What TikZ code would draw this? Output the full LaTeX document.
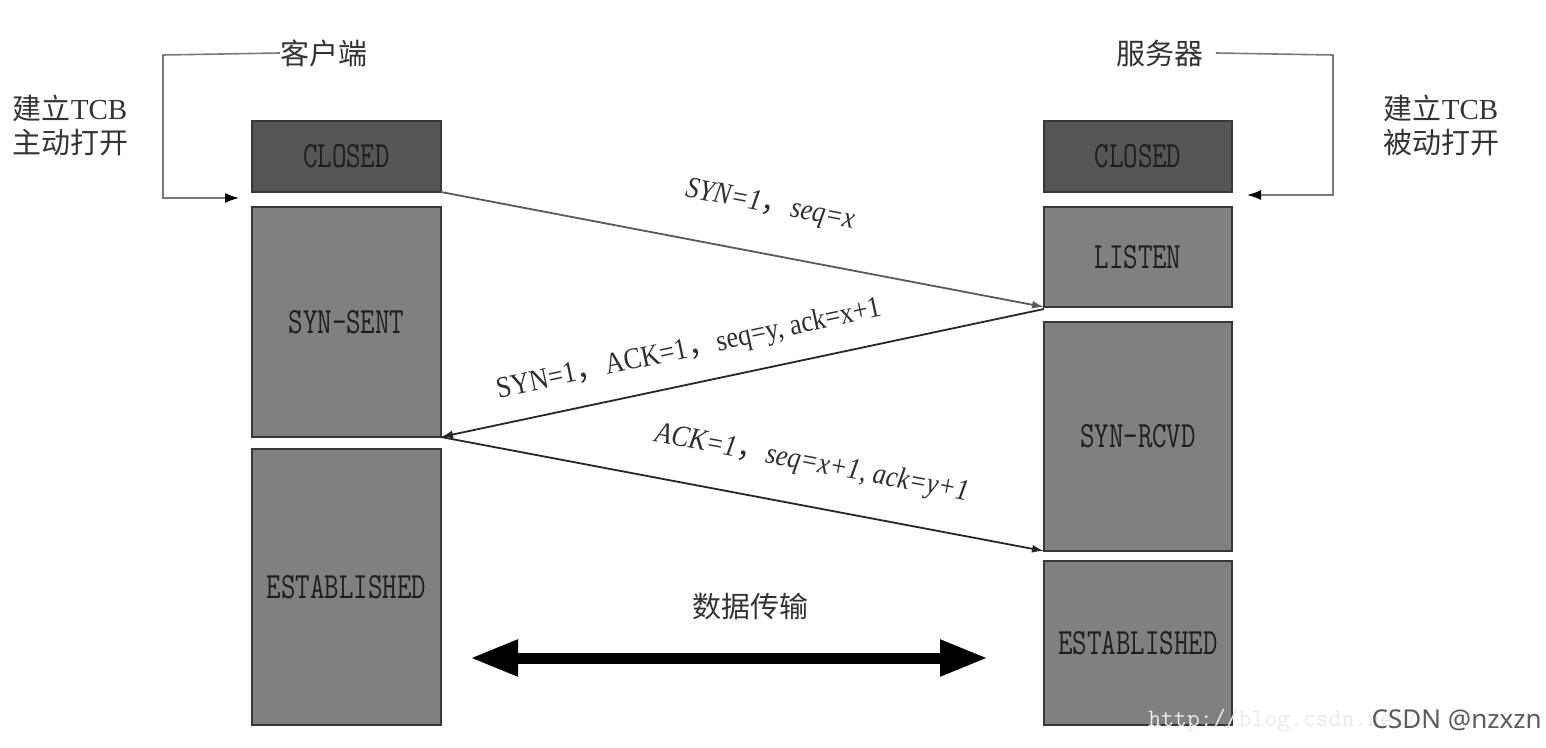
\documentclass[tikz,border=0pt]{standalone}
\usepackage{fontspec}
\setmainfont{Liberation Serif}
\newfontfamily\cjk{Noto Sans CJK SC}
\newfontfamily\labfont[FakeStretch=0.88]{Liberation Serif}
\newfontfamily\sigfont{Noto Sans}
\usetikzlibrary{arrows.meta}
\definecolor{boxdark}{HTML}{565656}
\definecolor{boxmid}{HTML}{808080}
\definecolor{boxline}{HTML}{383838}
\definecolor{statetext}{HTML}{1E1E1E}
\definecolor{labtext}{HTML}{2E2E2E}
\definecolor{cjktext}{HTML}{333333}
\definecolor{bracketcol}{HTML}{7A7A7A}
\definecolor{msgone}{HTML}{5A5A5A}
\definecolor{msgtwo}{HTML}{262626}
\definecolor{wmcol}{HTML}{EAEAEA}
\definecolor{sigcol}{HTML}{5C5C5C}
\newcommand\fc{{\cjk ，}}
\newcommand\st[1]{\scalebox{0.76}[1]{#1}}
\begin{document}
\begin{tikzpicture}[x=0.5pt,y=-0.5pt,
  statebox/.style={draw=boxline, line width=0.8pt, inner sep=0pt, outer sep=0pt,
    text=statetext, font=\fontsize{18.5pt}{22pt}\ttfamily},
  closedbox/.style={statebox, fill=boxdark},
  midbox/.style={statebox, fill=boxmid},
  msg/.style={line width=0.9pt, -{Latex[length=6pt,width=4pt]}},
  lab/.style={font=\labfont\fontsize{15pt}{18pt}\selectfont, text=labtext, inner sep=0pt},
  cjklab/.style={font=\cjk\fontsize{14.5pt}{17pt}\selectfont, text=cjktext, inner sep=0pt, align=center},
  bracket/.style={draw=bracketcol, line width=0.8pt},
  brtip/.style={-{Latex[length=7pt,width=5pt,color=black]}},
]
\useasboundingbox[fill=white] (0,0) rectangle (1546,748);

% client column
\node[closedbox, minimum width=94.5pt, minimum height=35.5pt] (cc) at (346.5,156.5) {\st{CLOSED}};
\node[midbox, minimum width=94.5pt, minimum height=115pt] (ss) at (346.5,322) {\st{SYN-SENT}};
\node[midbox, minimum width=94.5pt, minimum height=138pt] (ce) at (346.5,587) {\st{ESTABLISHED}};

% server column
\node[closedbox, minimum width=94pt, minimum height=35.5pt] (sc) at (1138,156.5) {\st{CLOSED}};
\node[midbox, minimum width=94pt, minimum height=50pt] (ls) at (1138,257) {\st{LISTEN}};
\node[midbox, minimum width=94pt, minimum height=114.5pt] (sr) at (1138,436.5) {\st{SYN-RCVD}};
\node[midbox, minimum width=94pt, minimum height=82pt] (se) at (1138,643) {\st{ESTABLISHED}};

% headings
\node[cjklab] (kh) at (324,53) {客户端};
\node[cjklab] (fw) at (1160,53) {服务器};
\node[cjklab] (lopen) at (70,125) {建立{\rmfamily TCB}\\主动打开};
\node[cjklab] (ropen) at (1441,125) {建立{\rmfamily TCB}\\被动打开};

% brackets
\coordinate (lc1) at (163,55);
\coordinate (lt) at (239,198);
\coordinate (rc1) at (1333,55);
\coordinate (rt) at (1247,195);
\draw[bracket, brtip] (kh.west) -- (lc1) |- (lt);
\draw[bracket, brtip] ([xshift=6pt]fw.east) -- (rc1) |- (rt);

% messages
\draw[msg, draw=msgone] (cc.south east) -- (ls.south west);
\draw[msg, draw=msgtwo] ([yshift=-1pt]ls.south west) -- (ss.south east);
\draw[msg, draw=msgtwo] (ss.south east) -- (sr.south west);

\node[lab, rotate=-10.8] (l1) at (770,206) {\itshape SYN=1\fc seq=x};
\node[lab, rotate=12.1] (l2) at (689,350) {SYN=1\fc ACK=1\fc seq=y, ack=x+1};
\node[lab, rotate=-10.7] (l3) at (812,464) {\itshape ACK=1\fc seq=x+1, ack=y+1};

% data transfer
\node[cjklab] (dt) at (750,606) {数据传输};
\coordinate (da1) at (470,658);
\coordinate (da2) at (988,658);
\draw[line width=5.5pt, {Triangle[length=24pt,width=17pt]}-{Triangle[length=24pt,width=17pt]}] (da1) -- (da2);

% watermark
\node[font=\fontsize{12.5pt}{14pt}\ttfamily, text=wmcol, anchor=west, inner sep=0pt] (wm) at (1148,721) {http://blog.csdn.net/};
\node[font=\sigfont\fontsize{13pt}{15pt}\selectfont, text=sigcol, anchor=east, inner sep=0pt] (sig) at (1542,720) {CSDN @nzxzn};
\end{tikzpicture}
\end{document}
